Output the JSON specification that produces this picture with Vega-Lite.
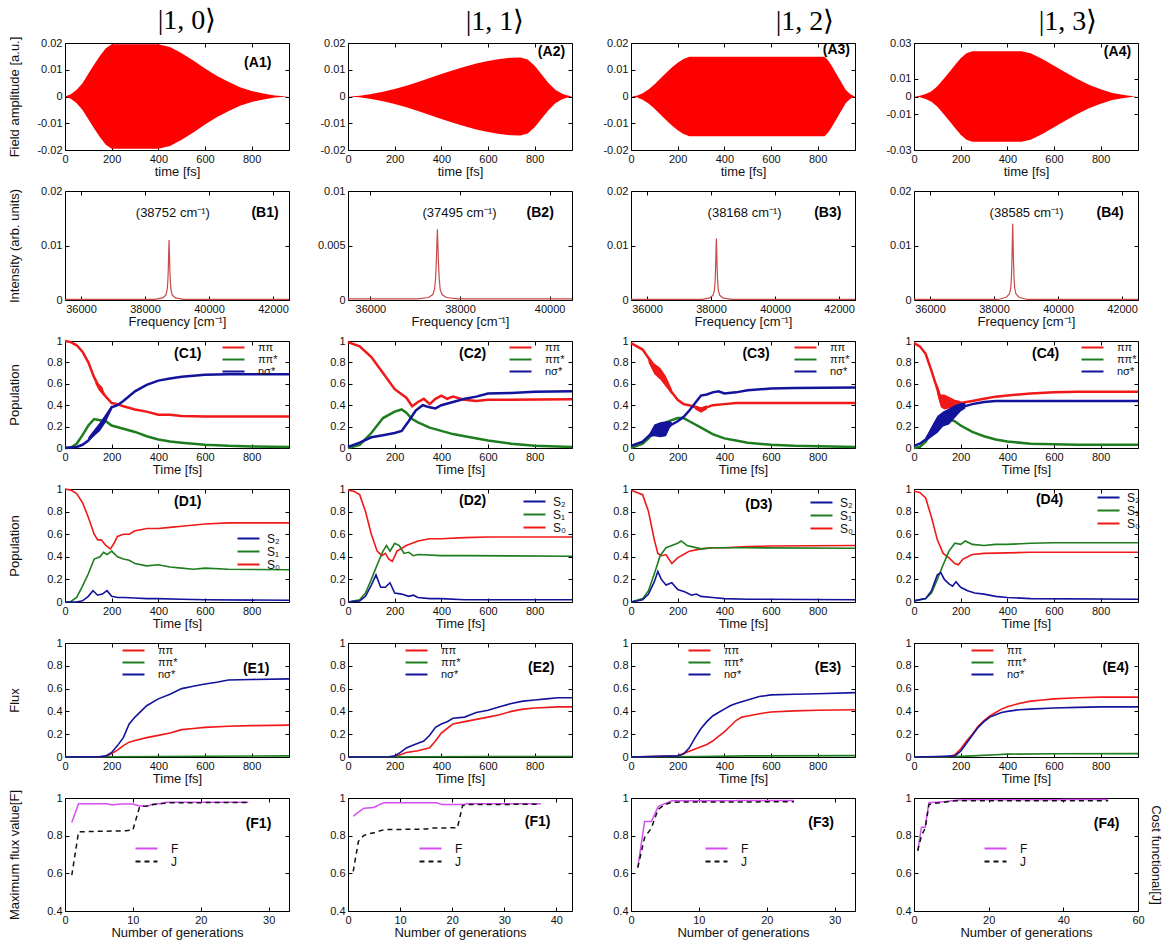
{
"$schema":"https://vega.github.io/schema/vega-lite/v6.json",
"padding":{"left":7,"top":6,"right":5,"bottom":5},
"config":{
 "font":"Liberation Sans",
 "view":{"stroke":"#000","strokeWidth":1},
 "numberFormat":"~r",
 "locale":{"number":{"decimal":".","thousands":",","grouping":[3],"currency":["$",""],"minus":"-"}},
 "axis":{"grid":false,"domain":false,"tickSize":-4,"tickColor":"#000","labelPadding":7,"labelFontSize":11,"labelColor":"#111","titleFontSize":13,"titleFontWeight":"normal","titleColor":"#111","labelFont":"Liberation Sans","titleFont":"Liberation Sans","labelFlush":false},
 "axisX":{"titlePadding":1},
 "axisY":{"titlePadding":4},
 "title":{"font":"Liberation Serif","fontSize":28,"fontWeight":"normal","anchor":"middle","offset":1,"color":"#000"},
 "legend":{"symbolType":"M-2,0H2","symbolSize":121,"symbolStrokeWidth":2,"labelFontSize":11,"labelFont":"Liberation Sans","rowPadding":0,"padding":0,"labelOffset":18,"offset":3,"labelColor":"#111"}
},
"datasets":{
"fa":[
{"p":"A1","t":0,"hi":0,"lo":0},{"p":"A1","t":25,"hi":0.0008,"lo":-0.0008},{"p":"A1","t":50,"hi":0.0025,"lo":-0.0025},{"p":"A1","t":75,"hi":0.005,"lo":-0.005},{"p":"A1","t":100,"hi":0.0085,"lo":-0.0085},{"p":"A1","t":125,"hi":0.012,"lo":-0.012},{"p":"A1","t":150,"hi":0.0152,"lo":-0.0152},{"p":"A1","t":175,"hi":0.018,"lo":-0.018},{"p":"A1","t":200,"hi":0.0195,"lo":-0.0195},{"p":"A1","t":400,"hi":0.0195,"lo":-0.0195},{"p":"A1","t":450,"hi":0.0185,"lo":-0.0185},{"p":"A1","t":500,"hi":0.0162,"lo":-0.0162},{"p":"A1","t":550,"hi":0.0135,"lo":-0.0135},{"p":"A1","t":600,"hi":0.0105,"lo":-0.0105},{"p":"A1","t":650,"hi":0.0078,"lo":-0.0078},{"p":"A1","t":700,"hi":0.0055,"lo":-0.0055},{"p":"A1","t":750,"hi":0.0035,"lo":-0.0035},{"p":"A1","t":800,"hi":0.0021,"lo":-0.0021},{"p":"A1","t":850,"hi":0.0011,"lo":-0.0011},{"p":"A1","t":900,"hi":0.0004,"lo":-0.0004},{"p":"A1","t":940,"hi":0.0001,"lo":-0.0001},{"p":"A1","t":960,"hi":0,"lo":0},
{"p":"A2","t":0,"hi":0,"lo":0},{"p":"A2","t":50,"hi":0.0003,"lo":-0.0003},{"p":"A2","t":100,"hi":0.0009,"lo":-0.0009},{"p":"A2","t":150,"hi":0.0018,"lo":-0.0018},{"p":"A2","t":200,"hi":0.0028,"lo":-0.0028},{"p":"A2","t":250,"hi":0.004,"lo":-0.004},{"p":"A2","t":300,"hi":0.0054,"lo":-0.0054},{"p":"A2","t":350,"hi":0.0069,"lo":-0.0069},{"p":"A2","t":400,"hi":0.0084,"lo":-0.0084},{"p":"A2","t":450,"hi":0.0098,"lo":-0.0098},{"p":"A2","t":500,"hi":0.0111,"lo":-0.0111},{"p":"A2","t":550,"hi":0.0123,"lo":-0.0123},{"p":"A2","t":600,"hi":0.0133,"lo":-0.0133},{"p":"A2","t":650,"hi":0.014,"lo":-0.014},{"p":"A2","t":700,"hi":0.0145,"lo":-0.0145},{"p":"A2","t":740,"hi":0.0146,"lo":-0.0146},{"p":"A2","t":770,"hi":0.0138,"lo":-0.0138},{"p":"A2","t":800,"hi":0.0115,"lo":-0.0115},{"p":"A2","t":830,"hi":0.0082,"lo":-0.0082},{"p":"A2","t":860,"hi":0.005,"lo":-0.005},{"p":"A2","t":890,"hi":0.0024,"lo":-0.0024},{"p":"A2","t":920,"hi":0.0009,"lo":-0.0009},{"p":"A2","t":950,"hi":0.0002,"lo":-0.0002},{"p":"A2","t":960,"hi":0,"lo":0},
{"p":"A3","t":0,"hi":0,"lo":0},{"p":"A3","t":25,"hi":0.0003,"lo":-0.0003},{"p":"A3","t":50,"hi":0.0012,"lo":-0.0012},{"p":"A3","t":75,"hi":0.0026,"lo":-0.0026},{"p":"A3","t":100,"hi":0.0045,"lo":-0.0045},{"p":"A3","t":125,"hi":0.0066,"lo":-0.0066},{"p":"A3","t":150,"hi":0.0088,"lo":-0.0088},{"p":"A3","t":175,"hi":0.0108,"lo":-0.0108},{"p":"A3","t":200,"hi":0.0126,"lo":-0.0126},{"p":"A3","t":225,"hi":0.014,"lo":-0.014},{"p":"A3","t":250,"hi":0.0149,"lo":-0.0149},{"p":"A3","t":830,"hi":0.0149,"lo":-0.0149},{"p":"A3","t":845,"hi":0.0135,"lo":-0.0135},{"p":"A3","t":860,"hi":0.0115,"lo":-0.0115},{"p":"A3","t":880,"hi":0.0085,"lo":-0.0085},{"p":"A3","t":900,"hi":0.0055,"lo":-0.0055},{"p":"A3","t":920,"hi":0.0025,"lo":-0.0025},{"p":"A3","t":940,"hi":0.0008,"lo":-0.0008},{"p":"A3","t":960,"hi":0,"lo":0},
{"p":"A4","t":0,"hi":0,"lo":0},{"p":"A4","t":25,"hi":0.0004,"lo":-0.0004},{"p":"A4","t":50,"hi":0.0014,"lo":-0.0014},{"p":"A4","t":75,"hi":0.003,"lo":-0.003},{"p":"A4","t":100,"hi":0.0058,"lo":-0.0058},{"p":"A4","t":125,"hi":0.0095,"lo":-0.0095},{"p":"A4","t":150,"hi":0.0135,"lo":-0.0135},{"p":"A4","t":175,"hi":0.0175,"lo":-0.0175},{"p":"A4","t":200,"hi":0.0215,"lo":-0.0215},{"p":"A4","t":225,"hi":0.0243,"lo":-0.0243},{"p":"A4","t":250,"hi":0.0254,"lo":-0.0254},{"p":"A4","t":460,"hi":0.0254,"lo":-0.0254},{"p":"A4","t":500,"hi":0.0242,"lo":-0.0242},{"p":"A4","t":550,"hi":0.021,"lo":-0.021},{"p":"A4","t":600,"hi":0.0172,"lo":-0.0172},{"p":"A4","t":650,"hi":0.0135,"lo":-0.0135},{"p":"A4","t":700,"hi":0.0098,"lo":-0.0098},{"p":"A4","t":750,"hi":0.0066,"lo":-0.0066},{"p":"A4","t":800,"hi":0.004,"lo":-0.004},{"p":"A4","t":850,"hi":0.002,"lo":-0.002},{"p":"A4","t":900,"hi":0.0008,"lo":-0.0008},{"p":"A4","t":940,"hi":0.0002,"lo":-0.0002},{"p":"A4","t":960,"hi":0,"lo":0}
],
"fb":[
{"p":"B1","f":35500,"v":0.0001},{"p":"B1","f":38302,"v":0.0001},{"p":"B1","f":38552,"v":0.0004},{"p":"B1","f":38650,"v":0.0009},{"p":"B1","f":38690,"v":0.0018},{"p":"B1","f":38712,"v":0.0033},{"p":"B1","f":38727,"v":0.0055},{"p":"B1","f":38740,"v":0.0085},{"p":"B1","f":38752,"v":0.011},{"p":"B1","f":38764,"v":0.0085},{"p":"B1","f":38777,"v":0.0055},{"p":"B1","f":38792,"v":0.0033},{"p":"B1","f":38814,"v":0.0018},{"p":"B1","f":38854,"v":0.0009},{"p":"B1","f":38952,"v":0.0004},{"p":"B1","f":39202,"v":0.0001},{"p":"B1","f":42500,"v":0.0001},
{"p":"B2","f":35500,"v":0.0001},{"p":"B2","f":37045,"v":0.0001},{"p":"B2","f":37295,"v":0.00023},{"p":"B2","f":37393,"v":0.0005},{"p":"B2","f":37433,"v":0.001},{"p":"B2","f":37455,"v":0.002},{"p":"B2","f":37470,"v":0.0033},{"p":"B2","f":37483,"v":0.005},{"p":"B2","f":37495,"v":0.0065},{"p":"B2","f":37507,"v":0.005},{"p":"B2","f":37520,"v":0.0033},{"p":"B2","f":37535,"v":0.002},{"p":"B2","f":37557,"v":0.001},{"p":"B2","f":37597,"v":0.0005},{"p":"B2","f":37695,"v":0.00023},{"p":"B2","f":37945,"v":0.0001},{"p":"B2","f":40500,"v":0.0001},
{"p":"B3","f":35500,"v":0.0001},{"p":"B3","f":37718,"v":0.0001},{"p":"B3","f":37968,"v":0.0004},{"p":"B3","f":38066,"v":0.0009},{"p":"B3","f":38106,"v":0.0018},{"p":"B3","f":38128,"v":0.0034},{"p":"B3","f":38143,"v":0.0057},{"p":"B3","f":38156,"v":0.0087},{"p":"B3","f":38168,"v":0.0113},{"p":"B3","f":38180,"v":0.0087},{"p":"B3","f":38193,"v":0.0057},{"p":"B3","f":38208,"v":0.0034},{"p":"B3","f":38230,"v":0.0018},{"p":"B3","f":38270,"v":0.0009},{"p":"B3","f":38368,"v":0.0004},{"p":"B3","f":38618,"v":0.0001},{"p":"B3","f":42500,"v":0.0001},
{"p":"B4","f":35500,"v":0.0001},{"p":"B4","f":38135,"v":0.0001},{"p":"B4","f":38385,"v":0.0005},{"p":"B4","f":38483,"v":0.0011},{"p":"B4","f":38523,"v":0.0022},{"p":"B4","f":38545,"v":0.0042},{"p":"B4","f":38560,"v":0.007},{"p":"B4","f":38573,"v":0.0108},{"p":"B4","f":38585,"v":0.014},{"p":"B4","f":38597,"v":0.0108},{"p":"B4","f":38610,"v":0.007},{"p":"B4","f":38625,"v":0.0042},{"p":"B4","f":38647,"v":0.0022},{"p":"B4","f":38687,"v":0.0011},{"p":"B4","f":38785,"v":0.0005},{"p":"B4","f":39035,"v":0.0001},{"p":"B4","f":42500,"v":0.0001}
],
"bd":[
{"p":"C1","s":"r","t":130,"lo":0.6,"hi":0.66},{"p":"C1","s":"r","t":145,"lo":0.54,"hi":0.6},{"p":"C1","s":"r","t":160,"lo":0.5,"hi":0.57},{"p":"C1","s":"r","t":170,"lo":0.48,"hi":0.51},
{"p":"C1","s":"b","t":100,"lo":0.06,"hi":0.1},{"p":"C1","s":"b","t":125,"lo":0.11,"hi":0.17},{"p":"C1","s":"b","t":150,"lo":0.16,"hi":0.24},{"p":"C1","s":"b","t":175,"lo":0.24,"hi":0.32},{"p":"C1","s":"b","t":200,"lo":0.36,"hi":0.4},
{"p":"C3","s":"r","t":75,"lo":0.8,"hi":0.86},{"p":"C3","s":"r","t":100,"lo":0.69,"hi":0.79},{"p":"C3","s":"r","t":125,"lo":0.64,"hi":0.75},{"p":"C3","s":"r","t":150,"lo":0.57,"hi":0.67},{"p":"C3","s":"r","t":175,"lo":0.5,"hi":0.55},
{"p":"C3","s":"r","t":275,"lo":0.36,"hi":0.4},{"p":"C3","s":"r","t":300,"lo":0.33,"hi":0.38},{"p":"C3","s":"r","t":325,"lo":0.36,"hi":0.4},
{"p":"C3","s":"b","t":75,"lo":0.1,"hi":0.12},{"p":"C3","s":"b","t":100,"lo":0.11,"hi":0.22},{"p":"C3","s":"b","t":125,"lo":0.1,"hi":0.24},{"p":"C3","s":"b","t":150,"lo":0.11,"hi":0.25},{"p":"C3","s":"b","t":165,"lo":0.18,"hi":0.25},{"p":"C3","s":"b","t":175,"lo":0.22,"hi":0.24},
{"p":"C4","s":"r","t":100,"lo":0.5,"hi":0.6},{"p":"C4","s":"r","t":115,"lo":0.38,"hi":0.5},{"p":"C4","s":"r","t":130,"lo":0.36,"hi":0.5},{"p":"C4","s":"r","t":150,"lo":0.37,"hi":0.48},{"p":"C4","s":"r","t":175,"lo":0.38,"hi":0.45},{"p":"C4","s":"r","t":200,"lo":0.4,"hi":0.44},
{"p":"C4","s":"b","t":50,"lo":0.06,"hi":0.1},{"p":"C4","s":"b","t":75,"lo":0.1,"hi":0.2},{"p":"C4","s":"b","t":100,"lo":0.14,"hi":0.3},{"p":"C4","s":"b","t":125,"lo":0.2,"hi":0.34},{"p":"C4","s":"b","t":150,"lo":0.22,"hi":0.37},{"p":"C4","s":"b","t":175,"lo":0.28,"hi":0.4},{"p":"C4","s":"b","t":200,"lo":0.34,"hi":0.42},{"p":"C4","s":"b","t":220,"lo":0.37,"hi":0.42}
],
"pc":[
{"p":"C1","s":"ππ","t":0,"v":1},{"p":"C1","s":"ππ","t":25,"v":0.99},{"p":"C1","s":"ππ","t":50,"v":0.96},{"p":"C1","s":"ππ","t":75,"v":0.9},{"p":"C1","s":"ππ","t":100,"v":0.8},{"p":"C1","s":"ππ","t":125,"v":0.66},{"p":"C1","s":"ππ","t":150,"v":0.55},{"p":"C1","s":"ππ","t":175,"v":0.48},{"p":"C1","s":"ππ","t":200,"v":0.42},{"p":"C1","s":"ππ","t":225,"v":0.41},{"p":"C1","s":"ππ","t":250,"v":0.39},{"p":"C1","s":"ππ","t":300,"v":0.36},{"p":"C1","s":"ππ","t":350,"v":0.34},{"p":"C1","s":"ππ","t":400,"v":0.31},{"p":"C1","s":"ππ","t":450,"v":0.31},{"p":"C1","s":"ππ","t":500,"v":0.3},{"p":"C1","s":"ππ","t":600,"v":0.295},{"p":"C1","s":"ππ","t":960,"v":0.295},
{"p":"C1","s":"ππ*","t":0,"v":0},{"p":"C1","s":"ππ*","t":25,"v":0.005},{"p":"C1","s":"ππ*","t":50,"v":0.04},{"p":"C1","s":"ππ*","t":75,"v":0.12},{"p":"C1","s":"ππ*","t":100,"v":0.21},{"p":"C1","s":"ππ*","t":125,"v":0.27},{"p":"C1","s":"ππ*","t":150,"v":0.26},{"p":"C1","s":"ππ*","t":175,"v":0.25},{"p":"C1","s":"ππ*","t":200,"v":0.21},{"p":"C1","s":"ππ*","t":250,"v":0.18},{"p":"C1","s":"ππ*","t":300,"v":0.15},{"p":"C1","s":"ππ*","t":350,"v":0.11},{"p":"C1","s":"ππ*","t":400,"v":0.08},{"p":"C1","s":"ππ*","t":450,"v":0.06},{"p":"C1","s":"ππ*","t":500,"v":0.05},{"p":"C1","s":"ππ*","t":600,"v":0.03},{"p":"C1","s":"ππ*","t":700,"v":0.02},{"p":"C1","s":"ππ*","t":800,"v":0.015},{"p":"C1","s":"ππ*","t":960,"v":0.01},
{"p":"C1","s":"nσ*","t":0,"v":0},{"p":"C1","s":"nσ*","t":50,"v":0.01},{"p":"C1","s":"nσ*","t":75,"v":0.03},{"p":"C1","s":"nσ*","t":100,"v":0.07},{"p":"C1","s":"nσ*","t":125,"v":0.14},{"p":"C1","s":"nσ*","t":150,"v":0.2},{"p":"C1","s":"nσ*","t":175,"v":0.28},{"p":"C1","s":"nσ*","t":200,"v":0.38},{"p":"C1","s":"nσ*","t":225,"v":0.4},{"p":"C1","s":"nσ*","t":250,"v":0.44},{"p":"C1","s":"nσ*","t":300,"v":0.53},{"p":"C1","s":"nσ*","t":350,"v":0.59},{"p":"C1","s":"nσ*","t":400,"v":0.63},{"p":"C1","s":"nσ*","t":450,"v":0.65},{"p":"C1","s":"nσ*","t":500,"v":0.665},{"p":"C1","s":"nσ*","t":600,"v":0.685},{"p":"C1","s":"nσ*","t":700,"v":0.69},{"p":"C1","s":"nσ*","t":960,"v":0.69},
{"p":"C2","s":"ππ","t":0,"v":0.99},{"p":"C2","s":"ππ","t":50,"v":0.95},{"p":"C2","s":"ππ","t":100,"v":0.85},{"p":"C2","s":"ππ","t":150,"v":0.7},{"p":"C2","s":"ππ","t":200,"v":0.55},{"p":"C2","s":"ππ","t":250,"v":0.47},{"p":"C2","s":"ππ","t":275,"v":0.39},{"p":"C2","s":"ππ","t":300,"v":0.43},{"p":"C2","s":"ππ","t":325,"v":0.46},{"p":"C2","s":"ππ","t":350,"v":0.41},{"p":"C2","s":"ππ","t":375,"v":0.46},{"p":"C2","s":"ππ","t":400,"v":0.49},{"p":"C2","s":"ππ","t":425,"v":0.46},{"p":"C2","s":"ππ","t":450,"v":0.48},{"p":"C2","s":"ππ","t":500,"v":0.45},{"p":"C2","s":"ππ","t":550,"v":0.44},{"p":"C2","s":"ππ","t":600,"v":0.45},{"p":"C2","s":"ππ","t":960,"v":0.455},
{"p":"C2","s":"ππ*","t":0,"v":0},{"p":"C2","s":"ππ*","t":50,"v":0.03},{"p":"C2","s":"ππ*","t":100,"v":0.14},{"p":"C2","s":"ππ*","t":150,"v":0.28},{"p":"C2","s":"ππ*","t":200,"v":0.34},{"p":"C2","s":"ππ*","t":230,"v":0.36},{"p":"C2","s":"ππ*","t":250,"v":0.33},{"p":"C2","s":"ππ*","t":275,"v":0.27},{"p":"C2","s":"ππ*","t":300,"v":0.24},{"p":"C2","s":"ππ*","t":350,"v":0.19},{"p":"C2","s":"ππ*","t":400,"v":0.16},{"p":"C2","s":"ππ*","t":450,"v":0.13},{"p":"C2","s":"ππ*","t":500,"v":0.11},{"p":"C2","s":"ππ*","t":600,"v":0.07},{"p":"C2","s":"ππ*","t":700,"v":0.04},{"p":"C2","s":"ππ*","t":800,"v":0.02},{"p":"C2","s":"ππ*","t":960,"v":0.01},
{"p":"C2","s":"nσ*","t":0,"v":0.01},{"p":"C2","s":"nσ*","t":50,"v":0.05},{"p":"C2","s":"nσ*","t":100,"v":0.1},{"p":"C2","s":"nσ*","t":150,"v":0.12},{"p":"C2","s":"nσ*","t":200,"v":0.14},{"p":"C2","s":"nσ*","t":230,"v":0.16},{"p":"C2","s":"nσ*","t":260,"v":0.25},{"p":"C2","s":"nσ*","t":290,"v":0.35},{"p":"C2","s":"nσ*","t":320,"v":0.4},{"p":"C2","s":"nσ*","t":350,"v":0.38},{"p":"C2","s":"nσ*","t":375,"v":0.37},{"p":"C2","s":"nσ*","t":400,"v":0.4},{"p":"C2","s":"nσ*","t":450,"v":0.43},{"p":"C2","s":"nσ*","t":500,"v":0.46},{"p":"C2","s":"nσ*","t":550,"v":0.48},{"p":"C2","s":"nσ*","t":600,"v":0.51},{"p":"C2","s":"nσ*","t":700,"v":0.515},{"p":"C2","s":"nσ*","t":800,"v":0.525},{"p":"C2","s":"nσ*","t":960,"v":0.53},
{"p":"C3","s":"ππ","t":0,"v":0.98},{"p":"C3","s":"ππ","t":50,"v":0.92},{"p":"C3","s":"ππ","t":75,"v":0.84},{"p":"C3","s":"ππ","t":100,"v":0.75},{"p":"C3","s":"ππ","t":125,"v":0.7},{"p":"C3","s":"ππ","t":150,"v":0.62},{"p":"C3","s":"ππ","t":175,"v":0.52},{"p":"C3","s":"ππ","t":200,"v":0.45},{"p":"C3","s":"ππ","t":225,"v":0.41},{"p":"C3","s":"ππ","t":250,"v":0.4},{"p":"C3","s":"ππ","t":275,"v":0.38},{"p":"C3","s":"ππ","t":300,"v":0.36},{"p":"C3","s":"ππ","t":325,"v":0.38},{"p":"C3","s":"ππ","t":350,"v":0.4},{"p":"C3","s":"ππ","t":400,"v":0.41},{"p":"C3","s":"ππ","t":450,"v":0.42},{"p":"C3","s":"ππ","t":500,"v":0.42},{"p":"C3","s":"ππ","t":960,"v":0.42},
{"p":"C3","s":"ππ*","t":0,"v":0},{"p":"C3","s":"ππ*","t":50,"v":0.04},{"p":"C3","s":"ππ*","t":75,"v":0.09},{"p":"C3","s":"ππ*","t":100,"v":0.15},{"p":"C3","s":"ππ*","t":125,"v":0.2},{"p":"C3","s":"ππ*","t":150,"v":0.24},{"p":"C3","s":"ππ*","t":175,"v":0.26},{"p":"C3","s":"ππ*","t":200,"v":0.28},{"p":"C3","s":"ππ*","t":225,"v":0.28},{"p":"C3","s":"ππ*","t":250,"v":0.25},{"p":"C3","s":"ππ*","t":300,"v":0.19},{"p":"C3","s":"ππ*","t":350,"v":0.13},{"p":"C3","s":"ππ*","t":400,"v":0.09},{"p":"C3","s":"ππ*","t":450,"v":0.07},{"p":"C3","s":"ππ*","t":500,"v":0.05},{"p":"C3","s":"ππ*","t":600,"v":0.03},{"p":"C3","s":"ππ*","t":700,"v":0.02},{"p":"C3","s":"ππ*","t":960,"v":0.01},
{"p":"C3","s":"nσ*","t":0,"v":0.02},{"p":"C3","s":"nσ*","t":50,"v":0.06},{"p":"C3","s":"nσ*","t":75,"v":0.11},{"p":"C3","s":"nσ*","t":100,"v":0.16},{"p":"C3","s":"nσ*","t":125,"v":0.17},{"p":"C3","s":"nσ*","t":150,"v":0.18},{"p":"C3","s":"nσ*","t":175,"v":0.22},{"p":"C3","s":"nσ*","t":200,"v":0.25},{"p":"C3","s":"nσ*","t":225,"v":0.29},{"p":"C3","s":"nσ*","t":250,"v":0.35},{"p":"C3","s":"nσ*","t":275,"v":0.42},{"p":"C3","s":"nσ*","t":300,"v":0.49},{"p":"C3","s":"nσ*","t":325,"v":0.5},{"p":"C3","s":"nσ*","t":350,"v":0.52},{"p":"C3","s":"nσ*","t":375,"v":0.53},{"p":"C3","s":"nσ*","t":400,"v":0.51},{"p":"C3","s":"nσ*","t":450,"v":0.52},{"p":"C3","s":"nσ*","t":500,"v":0.54},{"p":"C3","s":"nσ*","t":600,"v":0.555},{"p":"C3","s":"nσ*","t":700,"v":0.56},{"p":"C3","s":"nσ*","t":960,"v":0.565},
{"p":"C4","s":"ππ","t":0,"v":0.98},{"p":"C4","s":"ππ","t":25,"v":0.95},{"p":"C4","s":"ππ","t":50,"v":0.88},{"p":"C4","s":"ππ","t":75,"v":0.72},{"p":"C4","s":"ππ","t":100,"v":0.55},{"p":"C4","s":"ππ","t":115,"v":0.43},{"p":"C4","s":"ππ","t":125,"v":0.4},{"p":"C4","s":"ππ","t":150,"v":0.42},{"p":"C4","s":"ππ","t":175,"v":0.4},{"p":"C4","s":"ππ","t":200,"v":0.42},{"p":"C4","s":"ππ","t":250,"v":0.44},{"p":"C4","s":"ππ","t":300,"v":0.46},{"p":"C4","s":"ππ","t":350,"v":0.48},{"p":"C4","s":"ππ","t":400,"v":0.49},{"p":"C4","s":"ππ","t":450,"v":0.5},{"p":"C4","s":"ππ","t":500,"v":0.51},{"p":"C4","s":"ππ","t":600,"v":0.52},{"p":"C4","s":"ππ","t":700,"v":0.525},{"p":"C4","s":"ππ","t":960,"v":0.525},
{"p":"C4","s":"ππ*","t":0,"v":0},{"p":"C4","s":"ππ*","t":25,"v":0.01},{"p":"C4","s":"ππ*","t":50,"v":0.06},{"p":"C4","s":"ππ*","t":75,"v":0.15},{"p":"C4","s":"ππ*","t":100,"v":0.24},{"p":"C4","s":"ππ*","t":125,"v":0.27},{"p":"C4","s":"ππ*","t":150,"v":0.27},{"p":"C4","s":"ππ*","t":175,"v":0.25},{"p":"C4","s":"ππ*","t":200,"v":0.21},{"p":"C4","s":"ππ*","t":250,"v":0.15},{"p":"C4","s":"ππ*","t":300,"v":0.11},{"p":"C4","s":"ππ*","t":350,"v":0.08},{"p":"C4","s":"ππ*","t":400,"v":0.06},{"p":"C4","s":"ππ*","t":500,"v":0.04},{"p":"C4","s":"ππ*","t":600,"v":0.035},{"p":"C4","s":"ππ*","t":700,"v":0.03},{"p":"C4","s":"ππ*","t":960,"v":0.03},
{"p":"C4","s":"nσ*","t":0,"v":0.02},{"p":"C4","s":"nσ*","t":25,"v":0.04},{"p":"C4","s":"nσ*","t":50,"v":0.08},{"p":"C4","s":"nσ*","t":75,"v":0.15},{"p":"C4","s":"nσ*","t":100,"v":0.22},{"p":"C4","s":"nσ*","t":125,"v":0.27},{"p":"C4","s":"nσ*","t":150,"v":0.3},{"p":"C4","s":"nσ*","t":175,"v":0.34},{"p":"C4","s":"nσ*","t":200,"v":0.38},{"p":"C4","s":"nσ*","t":250,"v":0.41},{"p":"C4","s":"nσ*","t":300,"v":0.43},{"p":"C4","s":"nσ*","t":350,"v":0.44},{"p":"C4","s":"nσ*","t":400,"v":0.44},{"p":"C4","s":"nσ*","t":500,"v":0.44},{"p":"C4","s":"nσ*","t":960,"v":0.44}
],
"pd":[
{"p":"D1","s":"S₀","t":0,"v":1},{"p":"D1","s":"S₀","t":25,"v":0.99},{"p":"D1","s":"S₀","t":50,"v":0.96},{"p":"D1","s":"S₀","t":75,"v":0.88},{"p":"D1","s":"S₀","t":100,"v":0.75},{"p":"D1","s":"S₀","t":125,"v":0.6},{"p":"D1","s":"S₀","t":140,"v":0.55},{"p":"D1","s":"S₀","t":155,"v":0.55},{"p":"D1","s":"S₀","t":175,"v":0.5},{"p":"D1","s":"S₀","t":195,"v":0.47},{"p":"D1","s":"S₀","t":210,"v":0.52},{"p":"D1","s":"S₀","t":225,"v":0.58},{"p":"D1","s":"S₀","t":250,"v":0.6},{"p":"D1","s":"S₀","t":275,"v":0.6},{"p":"D1","s":"S₀","t":300,"v":0.63},{"p":"D1","s":"S₀","t":325,"v":0.64},{"p":"D1","s":"S₀","t":350,"v":0.65},{"p":"D1","s":"S₀","t":400,"v":0.65},{"p":"D1","s":"S₀","t":450,"v":0.66},{"p":"D1","s":"S₀","t":500,"v":0.67},{"p":"D1","s":"S₀","t":600,"v":0.69},{"p":"D1","s":"S₀","t":700,"v":0.7},{"p":"D1","s":"S₀","t":960,"v":0.7},
{"p":"D1","s":"S₁","t":0,"v":0},{"p":"D1","s":"S₁","t":25,"v":0.005},{"p":"D1","s":"S₁","t":50,"v":0.04},{"p":"D1","s":"S₁","t":75,"v":0.14},{"p":"D1","s":"S₁","t":100,"v":0.25},{"p":"D1","s":"S₁","t":125,"v":0.38},{"p":"D1","s":"S₁","t":150,"v":0.4},{"p":"D1","s":"S₁","t":165,"v":0.44},{"p":"D1","s":"S₁","t":180,"v":0.42},{"p":"D1","s":"S₁","t":200,"v":0.45},{"p":"D1","s":"S₁","t":225,"v":0.4},{"p":"D1","s":"S₁","t":250,"v":0.38},{"p":"D1","s":"S₁","t":275,"v":0.37},{"p":"D1","s":"S₁","t":300,"v":0.34},{"p":"D1","s":"S₁","t":350,"v":0.32},{"p":"D1","s":"S₁","t":400,"v":0.33},{"p":"D1","s":"S₁","t":450,"v":0.31},{"p":"D1","s":"S₁","t":500,"v":0.3},{"p":"D1","s":"S₁","t":550,"v":0.29},{"p":"D1","s":"S₁","t":600,"v":0.3},{"p":"D1","s":"S₁","t":700,"v":0.29},{"p":"D1","s":"S₁","t":960,"v":0.285},
{"p":"D1","s":"S₂","t":0,"v":0},{"p":"D1","s":"S₂","t":50,"v":0},{"p":"D1","s":"S₂","t":75,"v":0.01},{"p":"D1","s":"S₂","t":100,"v":0.05},{"p":"D1","s":"S₂","t":120,"v":0.1},{"p":"D1","s":"S₂","t":140,"v":0.06},{"p":"D1","s":"S₂","t":160,"v":0.07},{"p":"D1","s":"S₂","t":180,"v":0.1},{"p":"D1","s":"S₂","t":200,"v":0.05},{"p":"D1","s":"S₂","t":225,"v":0.04},{"p":"D1","s":"S₂","t":250,"v":0.04},{"p":"D1","s":"S₂","t":300,"v":0.035},{"p":"D1","s":"S₂","t":350,"v":0.03},{"p":"D1","s":"S₂","t":400,"v":0.03},{"p":"D1","s":"S₂","t":500,"v":0.025},{"p":"D1","s":"S₂","t":600,"v":0.02},{"p":"D1","s":"S₂","t":960,"v":0.015},
{"p":"D2","s":"S₀","t":0,"v":0.99},{"p":"D2","s":"S₀","t":25,"v":0.98},{"p":"D2","s":"S₀","t":50,"v":0.95},{"p":"D2","s":"S₀","t":75,"v":0.8},{"p":"D2","s":"S₀","t":100,"v":0.6},{"p":"D2","s":"S₀","t":125,"v":0.45},{"p":"D2","s":"S₀","t":145,"v":0.41},{"p":"D2","s":"S₀","t":160,"v":0.43},{"p":"D2","s":"S₀","t":175,"v":0.38},{"p":"D2","s":"S₀","t":190,"v":0.36},{"p":"D2","s":"S₀","t":210,"v":0.45},{"p":"D2","s":"S₀","t":250,"v":0.5},{"p":"D2","s":"S₀","t":300,"v":0.54},{"p":"D2","s":"S₀","t":350,"v":0.56},{"p":"D2","s":"S₀","t":400,"v":0.56},{"p":"D2","s":"S₀","t":500,"v":0.57},{"p":"D2","s":"S₀","t":600,"v":0.575},{"p":"D2","s":"S₀","t":960,"v":0.575},
{"p":"D2","s":"S₁","t":0,"v":0},{"p":"D2","s":"S₁","t":50,"v":0.02},{"p":"D2","s":"S₁","t":75,"v":0.08},{"p":"D2","s":"S₁","t":100,"v":0.2},{"p":"D2","s":"S₁","t":125,"v":0.33},{"p":"D2","s":"S₁","t":150,"v":0.45},{"p":"D2","s":"S₁","t":165,"v":0.5},{"p":"D2","s":"S₁","t":180,"v":0.45},{"p":"D2","s":"S₁","t":200,"v":0.52},{"p":"D2","s":"S₁","t":220,"v":0.5},{"p":"D2","s":"S₁","t":240,"v":0.43},{"p":"D2","s":"S₁","t":260,"v":0.44},{"p":"D2","s":"S₁","t":280,"v":0.41},{"p":"D2","s":"S₁","t":300,"v":0.42},{"p":"D2","s":"S₁","t":400,"v":0.41},{"p":"D2","s":"S₁","t":500,"v":0.41},{"p":"D2","s":"S₁","t":960,"v":0.405},
{"p":"D2","s":"S₂","t":0,"v":0},{"p":"D2","s":"S₂","t":50,"v":0.01},{"p":"D2","s":"S₂","t":75,"v":0.05},{"p":"D2","s":"S₂","t":100,"v":0.15},{"p":"D2","s":"S₂","t":120,"v":0.24},{"p":"D2","s":"S₂","t":140,"v":0.13},{"p":"D2","s":"S₂","t":160,"v":0.13},{"p":"D2","s":"S₂","t":180,"v":0.17},{"p":"D2","s":"S₂","t":200,"v":0.08},{"p":"D2","s":"S₂","t":230,"v":0.07},{"p":"D2","s":"S₂","t":260,"v":0.05},{"p":"D2","s":"S₂","t":280,"v":0.06},{"p":"D2","s":"S₂","t":300,"v":0.04},{"p":"D2","s":"S₂","t":350,"v":0.03},{"p":"D2","s":"S₂","t":400,"v":0.03},{"p":"D2","s":"S₂","t":500,"v":0.02},{"p":"D2","s":"S₂","t":960,"v":0.02},
{"p":"D3","s":"S₀","t":0,"v":0.99},{"p":"D3","s":"S₀","t":50,"v":0.95},{"p":"D3","s":"S₀","t":75,"v":0.8},{"p":"D3","s":"S₀","t":100,"v":0.55},{"p":"D3","s":"S₀","t":115,"v":0.43},{"p":"D3","s":"S₀","t":130,"v":0.41},{"p":"D3","s":"S₀","t":150,"v":0.42},{"p":"D3","s":"S₀","t":175,"v":0.34},{"p":"D3","s":"S₀","t":200,"v":0.39},{"p":"D3","s":"S₀","t":225,"v":0.42},{"p":"D3","s":"S₀","t":250,"v":0.45},{"p":"D3","s":"S₀","t":300,"v":0.47},{"p":"D3","s":"S₀","t":350,"v":0.48},{"p":"D3","s":"S₀","t":400,"v":0.48},{"p":"D3","s":"S₀","t":500,"v":0.49},{"p":"D3","s":"S₀","t":600,"v":0.495},{"p":"D3","s":"S₀","t":960,"v":0.5},
{"p":"D3","s":"S₁","t":0,"v":0},{"p":"D3","s":"S₁","t":50,"v":0.03},{"p":"D3","s":"S₁","t":75,"v":0.1},{"p":"D3","s":"S₁","t":100,"v":0.25},{"p":"D3","s":"S₁","t":125,"v":0.41},{"p":"D3","s":"S₁","t":150,"v":0.48},{"p":"D3","s":"S₁","t":175,"v":0.5},{"p":"D3","s":"S₁","t":200,"v":0.52},{"p":"D3","s":"S₁","t":215,"v":0.54},{"p":"D3","s":"S₁","t":240,"v":0.5},{"p":"D3","s":"S₁","t":260,"v":0.49},{"p":"D3","s":"S₁","t":300,"v":0.47},{"p":"D3","s":"S₁","t":350,"v":0.48},{"p":"D3","s":"S₁","t":400,"v":0.48},{"p":"D3","s":"S₁","t":500,"v":0.48},{"p":"D3","s":"S₁","t":960,"v":0.475},
{"p":"D3","s":"S₂","t":0,"v":0},{"p":"D3","s":"S₂","t":50,"v":0.02},{"p":"D3","s":"S₂","t":75,"v":0.07},{"p":"D3","s":"S₂","t":100,"v":0.18},{"p":"D3","s":"S₂","t":115,"v":0.27},{"p":"D3","s":"S₂","t":130,"v":0.2},{"p":"D3","s":"S₂","t":150,"v":0.15},{"p":"D3","s":"S₂","t":175,"v":0.17},{"p":"D3","s":"S₂","t":200,"v":0.11},{"p":"D3","s":"S₂","t":230,"v":0.09},{"p":"D3","s":"S₂","t":260,"v":0.06},{"p":"D3","s":"S₂","t":280,"v":0.07},{"p":"D3","s":"S₂","t":300,"v":0.05},{"p":"D3","s":"S₂","t":350,"v":0.04},{"p":"D3","s":"S₂","t":400,"v":0.03},{"p":"D3","s":"S₂","t":500,"v":0.025},{"p":"D3","s":"S₂","t":960,"v":0.02},
{"p":"D4","s":"S₀","t":0,"v":0.98},{"p":"D4","s":"S₀","t":25,"v":0.97},{"p":"D4","s":"S₀","t":50,"v":0.92},{"p":"D4","s":"S₀","t":75,"v":0.75},{"p":"D4","s":"S₀","t":100,"v":0.55},{"p":"D4","s":"S₀","t":125,"v":0.43},{"p":"D4","s":"S₀","t":150,"v":0.39},{"p":"D4","s":"S₀","t":175,"v":0.34},{"p":"D4","s":"S₀","t":190,"v":0.33},{"p":"D4","s":"S₀","t":210,"v":0.38},{"p":"D4","s":"S₀","t":250,"v":0.42},{"p":"D4","s":"S₀","t":300,"v":0.43},{"p":"D4","s":"S₀","t":400,"v":0.435},{"p":"D4","s":"S₀","t":500,"v":0.44},{"p":"D4","s":"S₀","t":960,"v":0.44},
{"p":"D4","s":"S₁","t":0,"v":0.01},{"p":"D4","s":"S₁","t":50,"v":0.03},{"p":"D4","s":"S₁","t":75,"v":0.08},{"p":"D4","s":"S₁","t":100,"v":0.2},{"p":"D4","s":"S₁","t":125,"v":0.33},{"p":"D4","s":"S₁","t":150,"v":0.45},{"p":"D4","s":"S₁","t":175,"v":0.52},{"p":"D4","s":"S₁","t":200,"v":0.51},{"p":"D4","s":"S₁","t":220,"v":0.54},{"p":"D4","s":"S₁","t":250,"v":0.51},{"p":"D4","s":"S₁","t":300,"v":0.5},{"p":"D4","s":"S₁","t":350,"v":0.51},{"p":"D4","s":"S₁","t":400,"v":0.51},{"p":"D4","s":"S₁","t":500,"v":0.52},{"p":"D4","s":"S₁","t":600,"v":0.525},{"p":"D4","s":"S₁","t":960,"v":0.525},
{"p":"D4","s":"S₂","t":0,"v":0.01},{"p":"D4","s":"S₂","t":50,"v":0.03},{"p":"D4","s":"S₂","t":75,"v":0.1},{"p":"D4","s":"S₂","t":100,"v":0.24},{"p":"D4","s":"S₂","t":115,"v":0.26},{"p":"D4","s":"S₂","t":130,"v":0.2},{"p":"D4","s":"S₂","t":150,"v":0.16},{"p":"D4","s":"S₂","t":165,"v":0.14},{"p":"D4","s":"S₂","t":180,"v":0.18},{"p":"D4","s":"S₂","t":200,"v":0.13},{"p":"D4","s":"S₂","t":230,"v":0.1},{"p":"D4","s":"S₂","t":260,"v":0.08},{"p":"D4","s":"S₂","t":300,"v":0.07},{"p":"D4","s":"S₂","t":350,"v":0.05},{"p":"D4","s":"S₂","t":400,"v":0.04},{"p":"D4","s":"S₂","t":500,"v":0.03},{"p":"D4","s":"S₂","t":960,"v":0.025}
],
"pe":[
{"p":"E1","s":"ππ","t":0,"v":0},{"p":"E1","s":"ππ","t":175,"v":0.005},{"p":"E1","s":"ππ","t":200,"v":0.03},{"p":"E1","s":"ππ","t":225,"v":0.06},{"p":"E1","s":"ππ","t":250,"v":0.1},{"p":"E1","s":"ππ","t":275,"v":0.13},{"p":"E1","s":"ππ","t":300,"v":0.145},{"p":"E1","s":"ππ","t":350,"v":0.17},{"p":"E1","s":"ππ","t":400,"v":0.19},{"p":"E1","s":"ππ","t":450,"v":0.21},{"p":"E1","s":"ππ","t":500,"v":0.24},{"p":"E1","s":"ππ","t":550,"v":0.25},{"p":"E1","s":"ππ","t":600,"v":0.26},{"p":"E1","s":"ππ","t":700,"v":0.27},{"p":"E1","s":"ππ","t":800,"v":0.275},{"p":"E1","s":"ππ","t":960,"v":0.28},
{"p":"E1","s":"ππ*","t":0,"v":0},{"p":"E1","s":"ππ*","t":200,"v":0.002},{"p":"E1","s":"ππ*","t":400,"v":0.005},{"p":"E1","s":"ππ*","t":600,"v":0.007},{"p":"E1","s":"ππ*","t":960,"v":0.01},
{"p":"E1","s":"nσ*","t":0,"v":0},{"p":"E1","s":"nσ*","t":150,"v":0.003},{"p":"E1","s":"nσ*","t":175,"v":0.01},{"p":"E1","s":"nσ*","t":200,"v":0.04},{"p":"E1","s":"nσ*","t":225,"v":0.1},{"p":"E1","s":"nσ*","t":250,"v":0.17},{"p":"E1","s":"nσ*","t":275,"v":0.29},{"p":"E1","s":"nσ*","t":300,"v":0.35},{"p":"E1","s":"nσ*","t":325,"v":0.4},{"p":"E1","s":"nσ*","t":350,"v":0.45},{"p":"E1","s":"nσ*","t":400,"v":0.51},{"p":"E1","s":"nσ*","t":450,"v":0.55},{"p":"E1","s":"nσ*","t":500,"v":0.6},{"p":"E1","s":"nσ*","t":550,"v":0.62},{"p":"E1","s":"nσ*","t":600,"v":0.64},{"p":"E1","s":"nσ*","t":650,"v":0.655},{"p":"E1","s":"nσ*","t":700,"v":0.675},{"p":"E1","s":"nσ*","t":800,"v":0.68},{"p":"E1","s":"nσ*","t":960,"v":0.685},
{"p":"E2","s":"ππ","t":0,"v":0},{"p":"E2","s":"ππ","t":200,"v":0.005},{"p":"E2","s":"ππ","t":225,"v":0.02},{"p":"E2","s":"ππ","t":250,"v":0.04},{"p":"E2","s":"ππ","t":300,"v":0.055},{"p":"E2","s":"ππ","t":350,"v":0.08},{"p":"E2","s":"ππ","t":375,"v":0.14},{"p":"E2","s":"ππ","t":400,"v":0.21},{"p":"E2","s":"ππ","t":425,"v":0.25},{"p":"E2","s":"ππ","t":450,"v":0.29},{"p":"E2","s":"ππ","t":500,"v":0.31},{"p":"E2","s":"ππ","t":550,"v":0.33},{"p":"E2","s":"ππ","t":600,"v":0.35},{"p":"E2","s":"ππ","t":650,"v":0.37},{"p":"E2","s":"ππ","t":700,"v":0.4},{"p":"E2","s":"ππ","t":750,"v":0.42},{"p":"E2","s":"ππ","t":800,"v":0.43},{"p":"E2","s":"ππ","t":900,"v":0.44},{"p":"E2","s":"ππ","t":960,"v":0.44},
{"p":"E2","s":"ππ*","t":0,"v":0},{"p":"E2","s":"ππ*","t":300,"v":0.002},{"p":"E2","s":"ππ*","t":600,"v":0.004},{"p":"E2","s":"ππ*","t":960,"v":0.005},
{"p":"E2","s":"nσ*","t":0,"v":0},{"p":"E2","s":"nσ*","t":175,"v":0.002},{"p":"E2","s":"nσ*","t":200,"v":0.01},{"p":"E2","s":"nσ*","t":225,"v":0.04},{"p":"E2","s":"nσ*","t":250,"v":0.08},{"p":"E2","s":"nσ*","t":275,"v":0.1},{"p":"E2","s":"nσ*","t":300,"v":0.12},{"p":"E2","s":"nσ*","t":325,"v":0.14},{"p":"E2","s":"nσ*","t":350,"v":0.19},{"p":"E2","s":"nσ*","t":375,"v":0.26},{"p":"E2","s":"nσ*","t":400,"v":0.29},{"p":"E2","s":"nσ*","t":425,"v":0.31},{"p":"E2","s":"nσ*","t":450,"v":0.34},{"p":"E2","s":"nσ*","t":500,"v":0.35},{"p":"E2","s":"nσ*","t":525,"v":0.37},{"p":"E2","s":"nσ*","t":550,"v":0.39},{"p":"E2","s":"nσ*","t":600,"v":0.41},{"p":"E2","s":"nσ*","t":650,"v":0.44},{"p":"E2","s":"nσ*","t":700,"v":0.47},{"p":"E2","s":"nσ*","t":750,"v":0.49},{"p":"E2","s":"nσ*","t":800,"v":0.5},{"p":"E2","s":"nσ*","t":850,"v":0.51},{"p":"E2","s":"nσ*","t":900,"v":0.52},{"p":"E2","s":"nσ*","t":960,"v":0.52},
{"p":"E3","s":"ππ","t":0,"v":0},{"p":"E3","s":"ππ","t":200,"v":0.01},{"p":"E3","s":"ππ","t":225,"v":0.03},{"p":"E3","s":"ππ","t":250,"v":0.05},{"p":"E3","s":"ππ","t":275,"v":0.07},{"p":"E3","s":"ππ","t":300,"v":0.09},{"p":"E3","s":"ππ","t":325,"v":0.11},{"p":"E3","s":"ππ","t":350,"v":0.14},{"p":"E3","s":"ππ","t":375,"v":0.18},{"p":"E3","s":"ππ","t":400,"v":0.22},{"p":"E3","s":"ππ","t":425,"v":0.27},{"p":"E3","s":"ππ","t":450,"v":0.32},{"p":"E3","s":"ππ","t":475,"v":0.35},{"p":"E3","s":"ππ","t":500,"v":0.36},{"p":"E3","s":"ππ","t":550,"v":0.38},{"p":"E3","s":"ππ","t":600,"v":0.395},{"p":"E3","s":"ππ","t":700,"v":0.405},{"p":"E3","s":"ππ","t":800,"v":0.41},{"p":"E3","s":"ππ","t":960,"v":0.415},
{"p":"E3","s":"ππ*","t":0,"v":0},{"p":"E3","s":"ππ*","t":300,"v":0.005},{"p":"E3","s":"ππ*","t":500,"v":0.01},{"p":"E3","s":"ππ*","t":960,"v":0.012},
{"p":"E3","s":"nσ*","t":0,"v":0},{"p":"E3","s":"nσ*","t":200,"v":0.01},{"p":"E3","s":"nσ*","t":225,"v":0.025},{"p":"E3","s":"nσ*","t":250,"v":0.08},{"p":"E3","s":"nσ*","t":275,"v":0.17},{"p":"E3","s":"nσ*","t":300,"v":0.25},{"p":"E3","s":"nσ*","t":325,"v":0.31},{"p":"E3","s":"nσ*","t":350,"v":0.36},{"p":"E3","s":"nσ*","t":375,"v":0.39},{"p":"E3","s":"nσ*","t":400,"v":0.42},{"p":"E3","s":"nσ*","t":425,"v":0.45},{"p":"E3","s":"nσ*","t":450,"v":0.47},{"p":"E3","s":"nσ*","t":500,"v":0.5},{"p":"E3","s":"nσ*","t":550,"v":0.53},{"p":"E3","s":"nσ*","t":600,"v":0.545},{"p":"E3","s":"nσ*","t":700,"v":0.55},{"p":"E3","s":"nσ*","t":800,"v":0.555},{"p":"E3","s":"nσ*","t":960,"v":0.565},
{"p":"E4","s":"ππ","t":0,"v":0},{"p":"E4","s":"ππ","t":150,"v":0.005},{"p":"E4","s":"ππ","t":175,"v":0.02},{"p":"E4","s":"ππ","t":200,"v":0.07},{"p":"E4","s":"ππ","t":225,"v":0.14},{"p":"E4","s":"ππ","t":250,"v":0.2},{"p":"E4","s":"ππ","t":275,"v":0.27},{"p":"E4","s":"ππ","t":300,"v":0.32},{"p":"E4","s":"ππ","t":325,"v":0.36},{"p":"E4","s":"ππ","t":350,"v":0.39},{"p":"E4","s":"ππ","t":375,"v":0.42},{"p":"E4","s":"ππ","t":400,"v":0.44},{"p":"E4","s":"ππ","t":450,"v":0.47},{"p":"E4","s":"ππ","t":500,"v":0.49},{"p":"E4","s":"ππ","t":550,"v":0.5},{"p":"E4","s":"ππ","t":600,"v":0.51},{"p":"E4","s":"ππ","t":700,"v":0.52},{"p":"E4","s":"ππ","t":800,"v":0.525},{"p":"E4","s":"ππ","t":960,"v":0.525},
{"p":"E4","s":"ππ*","t":0,"v":0},{"p":"E4","s":"ππ*","t":175,"v":0.003},{"p":"E4","s":"ππ*","t":250,"v":0.01},{"p":"E4","s":"ππ*","t":350,"v":0.02},{"p":"E4","s":"ππ*","t":400,"v":0.025},{"p":"E4","s":"ππ*","t":600,"v":0.028},{"p":"E4","s":"ππ*","t":960,"v":0.03},
{"p":"E4","s":"nσ*","t":0,"v":0},{"p":"E4","s":"nσ*","t":100,"v":0.005},{"p":"E4","s":"nσ*","t":175,"v":0.01},{"p":"E4","s":"nσ*","t":200,"v":0.05},{"p":"E4","s":"nσ*","t":225,"v":0.12},{"p":"E4","s":"nσ*","t":250,"v":0.19},{"p":"E4","s":"nσ*","t":275,"v":0.26},{"p":"E4","s":"nσ*","t":300,"v":0.31},{"p":"E4","s":"nσ*","t":325,"v":0.35},{"p":"E4","s":"nσ*","t":350,"v":0.37},{"p":"E4","s":"nσ*","t":375,"v":0.39},{"p":"E4","s":"nσ*","t":400,"v":0.4},{"p":"E4","s":"nσ*","t":450,"v":0.415},{"p":"E4","s":"nσ*","t":500,"v":0.42},{"p":"E4","s":"nσ*","t":600,"v":0.43},{"p":"E4","s":"nσ*","t":700,"v":0.435},{"p":"E4","s":"nσ*","t":800,"v":0.44},{"p":"E4","s":"nσ*","t":960,"v":0.44}
],
"pf":[
{"p":"F1","s":"F","g":1,"v":0.87},{"p":"F1","s":"F","g":2,"v":0.97},{"p":"F1","s":"F","g":6,"v":0.97},{"p":"F1","s":"F","g":7,"v":0.963},{"p":"F1","s":"F","g":8,"v":0.968},{"p":"F1","s":"F","g":10,"v":0.968},{"p":"F1","s":"F","g":11,"v":0.958},{"p":"F1","s":"F","g":12,"v":0.955},{"p":"F1","s":"F","g":13,"v":0.968},{"p":"F1","s":"F","g":14,"v":0.97},{"p":"F1","s":"F","g":15,"v":0.978},{"p":"F1","s":"F","g":27,"v":0.978},
{"p":"F1","s":"J","g":1,"v":0.59},{"p":"F1","s":"J","g":2,"v":0.82},{"p":"F1","s":"J","g":5,"v":0.823},{"p":"F1","s":"J","g":9,"v":0.826},{"p":"F1","s":"J","g":10,"v":0.83},{"p":"F1","s":"J","g":11,"v":0.955},{"p":"F1","s":"J","g":12,"v":0.957},{"p":"F1","s":"J","g":13,"v":0.965},{"p":"F1","s":"J","g":14,"v":0.968},{"p":"F1","s":"J","g":15,"v":0.975},{"p":"F1","s":"J","g":27,"v":0.976},
{"p":"F2","s":"F","g":1,"v":0.903},{"p":"F2","s":"F","g":2,"v":0.925},{"p":"F2","s":"F","g":3,"v":0.945},{"p":"F2","s":"F","g":5,"v":0.95},{"p":"F2","s":"F","g":6,"v":0.965},{"p":"F2","s":"F","g":7,"v":0.975},{"p":"F2","s":"F","g":17,"v":0.975},{"p":"F2","s":"F","g":18,"v":0.965},{"p":"F2","s":"F","g":22,"v":0.965},{"p":"F2","s":"F","g":23,"v":0.97},{"p":"F2","s":"F","g":37,"v":0.97},
{"p":"F2","s":"J","g":1,"v":0.61},{"p":"F2","s":"J","g":2,"v":0.77},{"p":"F2","s":"J","g":3,"v":0.8},{"p":"F2","s":"J","g":4,"v":0.81},{"p":"F2","s":"J","g":5,"v":0.815},{"p":"F2","s":"J","g":6,"v":0.825},{"p":"F2","s":"J","g":7,"v":0.832},{"p":"F2","s":"J","g":15,"v":0.835},{"p":"F2","s":"J","g":16,"v":0.84},{"p":"F2","s":"J","g":21,"v":0.842},{"p":"F2","s":"J","g":22,"v":0.96},{"p":"F2","s":"J","g":23,"v":0.965},{"p":"F2","s":"J","g":37,"v":0.967},
{"p":"F3","s":"F","g":1,"v":0.63},{"p":"F3","s":"F","g":2,"v":0.875},{"p":"F3","s":"F","g":3,"v":0.875},{"p":"F3","s":"F","g":4,"v":0.955},{"p":"F3","s":"F","g":5,"v":0.97},{"p":"F3","s":"F","g":6,"v":0.985},{"p":"F3","s":"F","g":24,"v":0.987},
{"p":"F3","s":"J","g":1,"v":0.63},{"p":"F3","s":"J","g":2,"v":0.79},{"p":"F3","s":"J","g":3,"v":0.84},{"p":"F3","s":"J","g":4,"v":0.94},{"p":"F3","s":"J","g":5,"v":0.965},{"p":"F3","s":"J","g":6,"v":0.978},{"p":"F3","s":"J","g":24,"v":0.98},
{"p":"F4","s":"F","g":1,"v":0.72},{"p":"F4","s":"F","g":2,"v":0.845},{"p":"F4","s":"F","g":3,"v":0.845},{"p":"F4","s":"F","g":4,"v":0.975},{"p":"F4","s":"F","g":6,"v":0.978},{"p":"F4","s":"F","g":8,"v":0.98},{"p":"F4","s":"F","g":10,"v":0.985},{"p":"F4","s":"F","g":12,"v":0.99},{"p":"F4","s":"F","g":52,"v":0.992},
{"p":"F4","s":"J","g":1,"v":0.72},{"p":"F4","s":"J","g":2,"v":0.8},{"p":"F4","s":"J","g":3,"v":0.84},{"p":"F4","s":"J","g":4,"v":0.965},{"p":"F4","s":"J","g":5,"v":0.97},{"p":"F4","s":"J","g":8,"v":0.978},{"p":"F4","s":"J","g":10,"v":0.983},{"p":"F4","s":"J","g":12,"v":0.985},{"p":"F4","s":"J","g":52,"v":0.986}
],
"lab":[
{"p":"A1","k":"b","x":826,"y":0.0125,"txt":"(A1)"},{"p":"A2","k":"b","x":872,"y":0.0165,"txt":"(A2)"},{"p":"A3","k":"b","x":880,"y":0.0172,"txt":"(A3)"},{"p":"A4","k":"b","x":872,"y":0.025,"txt":"(A4)"},
{"p":"B1","k":"b","x":41750,"y":0.016,"txt":"(B1)"},{"p":"B1","k":"n","x":38870,"y":0.016,"txt":"(38752 cm⁻¹)"},
{"p":"B2","k":"b","x":39790,"y":0.008,"txt":"(B2)"},{"p":"B2","k":"n","x":37990,"y":0.008,"txt":"(37495 cm⁻¹)"},
{"p":"B3","k":"b","x":41650,"y":0.016,"txt":"(B3)"},{"p":"B3","k":"n","x":39050,"y":0.016,"txt":"(38168 cm⁻¹)"},
{"p":"B4","k":"b","x":41630,"y":0.016,"txt":"(B4)"},{"p":"B4","k":"n","x":39020,"y":0.016,"txt":"(38585 cm⁻¹)"},
{"p":"C1","k":"b","x":526,"y":0.88,"txt":"(C1)"},{"p":"C2","k":"b","x":534,"y":0.88,"txt":"(C2)"},{"p":"C3","k":"b","x":536,"y":0.88,"txt":"(C3)"},{"p":"C4","k":"b","x":564,"y":0.88,"txt":"(C4)"},
{"p":"D1","k":"b","x":526,"y":0.885,"txt":"(D1)"},{"p":"D2","k":"b","x":534,"y":0.89,"txt":"(D2)"},{"p":"D3","k":"b","x":548,"y":0.86,"txt":"(D3)"},{"p":"D4","k":"b","x":581,"y":0.9,"txt":"(D4)"},
{"p":"E1","k":"b","x":819,"y":0.77,"txt":"(E1)"},{"p":"E2","k":"b","x":828,"y":0.78,"txt":"(E2)"},{"p":"E3","k":"b","x":844,"y":0.78,"txt":"(E3)"},{"p":"E4","k":"b","x":864,"y":0.78,"txt":"(E4)"},
{"p":"F1","k":"b","x":28.5,"y":0.863,"txt":"(F1)"},{"p":"F2","k":"b","x":36.4,"y":0.87,"txt":"(F1)"},{"p":"F3","k":"b","x":28,"y":0.866,"txt":"(F3)"},{"p":"F4","k":"b","x":51.6,"y":0.863,"txt":"(F4)"}
]
},
"columns":4,
"spacing":{"row":41,"column":59},
"bounds":"flush",
"align":"each",
"resolve":{"scale":{"color":"independent","strokeDash":"independent"}},
"concat":[
{"width":224,"height":107,"title":{"text":"|1, 0⟩","dx":10},"layer":[
 {"data":{"name":"fa"},"transform":[{"filter":"datum.p=='A1'"}],"mark":{"type":"area","color":"#ff0000"},"encoding":{"x":{"field":"t","type":"quantitative","scale":{"domain":[0,960],"nice":false},"axis":{"values":[0,200,400,600,800],"title":"time [fs]"}},"y":{"field":"hi","type":"quantitative","scale":{"domain":[-0.02,0.02],"nice":false},"axis":{"values":[-0.02,-0.01,0,0.01,0.02],"title":"Field amplitude [a.u.]","titleX":-44}},"y2":{"field":"lo"}}},
 {"data":{"name":"lab"},"transform":[{"filter":"datum.p=='A1'"}],"mark":{"type":"text","fontWeight":"bold","fontSize":14,"font":"Liberation Sans"},"encoding":{"x":{"field":"x","type":"quantitative","axis":{"orient":"top","labels":false,"title":null,"values":[0,200,400,600,800]}},"y":{"field":"y","type":"quantitative","axis":{"orient":"right","labels":false,"title":null,"values":[-0.02,-0.01,0,0.01,0.02]}},"text":{"field":"txt"}}}
],"resolve":{"axis":{"x":"independent","y":"independent"}}},
{"width":224,"height":107,"title":{"text":"|1, 1⟩","dx":35},"layer":[
 {"data":{"name":"fa"},"transform":[{"filter":"datum.p=='A2'"}],"mark":{"type":"area","color":"#ff0000"},"encoding":{"x":{"field":"t","type":"quantitative","scale":{"domain":[0,960],"nice":false},"axis":{"values":[0,200,400,600,800],"title":"time [fs]"}},"y":{"field":"hi","type":"quantitative","scale":{"domain":[-0.02,0.02],"nice":false},"axis":{"values":[-0.02,-0.01,0,0.01,0.02],"title":null}},"y2":{"field":"lo"}}},
 {"data":{"name":"lab"},"transform":[{"filter":"datum.p=='A2'"}],"mark":{"type":"text","fontWeight":"bold","fontSize":14,"font":"Liberation Sans"},"encoding":{"x":{"field":"x","type":"quantitative","axis":{"orient":"top","labels":false,"title":null,"values":[0,200,400,600,800]}},"y":{"field":"y","type":"quantitative","axis":{"orient":"right","labels":false,"title":null,"values":[-0.02,-0.01,0,0.01,0.02]}},"text":{"field":"txt"}}}
],"resolve":{"axis":{"x":"independent","y":"independent"}}},
{"width":224,"height":107,"title":{"text":"|1, 2⟩","dx":62},"layer":[
 {"data":{"name":"fa"},"transform":[{"filter":"datum.p=='A3'"}],"mark":{"type":"area","color":"#ff0000"},"encoding":{"x":{"field":"t","type":"quantitative","scale":{"domain":[0,960],"nice":false},"axis":{"values":[0,200,400,600,800],"title":"time [fs]"}},"y":{"field":"hi","type":"quantitative","scale":{"domain":[-0.02,0.02],"nice":false},"axis":{"values":[-0.02,-0.01,0,0.01,0.02],"title":null}},"y2":{"field":"lo"}}},
 {"data":{"name":"lab"},"transform":[{"filter":"datum.p=='A3'"}],"mark":{"type":"text","fontWeight":"bold","fontSize":14,"font":"Liberation Sans"},"encoding":{"x":{"field":"x","type":"quantitative","axis":{"orient":"top","labels":false,"title":null,"values":[0,200,400,600,800]}},"y":{"field":"y","type":"quantitative","axis":{"orient":"right","labels":false,"title":null,"values":[-0.02,-0.01,0,0.01,0.02]}},"text":{"field":"txt"}}}
],"resolve":{"axis":{"x":"independent","y":"independent"}}},
{"width":224,"height":107,"title":{"text":"|1, 3⟩","dx":42},"layer":[
 {"data":{"name":"fa"},"transform":[{"filter":"datum.p=='A4'"}],"mark":{"type":"area","color":"#ff0000"},"encoding":{"x":{"field":"t","type":"quantitative","scale":{"domain":[0,960],"nice":false},"axis":{"values":[0,200,400,600,800],"title":"time [fs]"}},"y":{"field":"hi","type":"quantitative","scale":{"domain":[-0.03,0.03],"nice":false},"axis":{"values":[-0.03,-0.01,0,0.01,0.03],"title":null}},"y2":{"field":"lo"}}},
 {"data":{"name":"lab"},"transform":[{"filter":"datum.p=='A4'"}],"mark":{"type":"text","fontWeight":"bold","fontSize":14,"font":"Liberation Sans"},"encoding":{"x":{"field":"x","type":"quantitative","axis":{"orient":"top","labels":false,"title":null,"values":[0,200,400,600,800]}},"y":{"field":"y","type":"quantitative","axis":{"orient":"right","labels":false,"title":null,"values":[-0.03,-0.01,0,0.01,0.03]}},"text":{"field":"txt"}}}
],"resolve":{"axis":{"x":"independent","y":"independent"}}},
{"width":224,"height":109,"layer":[
 {"data":{"name":"fb"},"transform":[{"filter":"datum.p=='B1'"}],"mark":{"type":"line","color":"#c84a4a","strokeWidth":1.2},"encoding":{"x":{"field":"f","type":"quantitative","scale":{"domain":[35500,42500],"nice":false},"axis":{"values":[36000,38000,40000,42000],"title":"Frequency [cm⁻¹]"}},"y":{"field":"v","type":"quantitative","scale":{"domain":[0,0.02],"nice":false},"axis":{"values":[0,0.01,0.02],"title":"Intensity (arb. units)","titleX":-44}}}},
 {"data":{"name":"lab"},"transform":[{"filter":"datum.p=='B1' && datum.k=='b'"}],"mark":{"type":"text","fontWeight":"bold","fontSize":14,"font":"Liberation Sans"},"encoding":{"x":{"field":"x","type":"quantitative","axis":{"orient":"top","labels":false,"title":null,"values":[36000,38000,40000,42000]}},"y":{"field":"y","type":"quantitative","axis":{"orient":"right","labels":false,"title":null,"values":[0,0.01,0.02]}},"text":{"field":"txt"}}},
 {"data":{"name":"lab"},"transform":[{"filter":"datum.p=='B1' && datum.k=='n'"}],"mark":{"type":"text","fontSize":13,"font":"Liberation Sans","color":"#111"},"encoding":{"x":{"field":"x","type":"quantitative","axis":null},"y":{"field":"y","type":"quantitative","axis":null},"text":{"field":"txt"}}}
],"resolve":{"axis":{"x":"independent","y":"independent"}}},
{"width":224,"height":109,"layer":[
 {"data":{"name":"fb"},"transform":[{"filter":"datum.p=='B2'"}],"mark":{"type":"line","color":"#c84a4a","strokeWidth":1.2},"encoding":{"x":{"field":"f","type":"quantitative","scale":{"domain":[35500,40500],"nice":false},"axis":{"values":[36000,38000,40000],"title":"Frequency [cm⁻¹]"}},"y":{"field":"v","type":"quantitative","scale":{"domain":[0,0.01],"nice":false},"axis":{"values":[0,0.005,0.01],"title":null}}}},
 {"data":{"name":"lab"},"transform":[{"filter":"datum.p=='B2' && datum.k=='b'"}],"mark":{"type":"text","fontWeight":"bold","fontSize":14,"font":"Liberation Sans"},"encoding":{"x":{"field":"x","type":"quantitative","axis":{"orient":"top","labels":false,"title":null,"values":[36000,38000,40000]}},"y":{"field":"y","type":"quantitative","axis":{"orient":"right","labels":false,"title":null,"values":[0,0.005,0.01]}},"text":{"field":"txt"}}},
 {"data":{"name":"lab"},"transform":[{"filter":"datum.p=='B2' && datum.k=='n'"}],"mark":{"type":"text","fontSize":13,"font":"Liberation Sans","color":"#111"},"encoding":{"x":{"field":"x","type":"quantitative","axis":null},"y":{"field":"y","type":"quantitative","axis":null},"text":{"field":"txt"}}}
],"resolve":{"axis":{"x":"independent","y":"independent"}}},
{"width":224,"height":109,"layer":[
 {"data":{"name":"fb"},"transform":[{"filter":"datum.p=='B3'"}],"mark":{"type":"line","color":"#c84a4a","strokeWidth":1.2},"encoding":{"x":{"field":"f","type":"quantitative","scale":{"domain":[35500,42500],"nice":false},"axis":{"values":[36000,38000,40000,42000],"title":"Frequency [cm⁻¹]"}},"y":{"field":"v","type":"quantitative","scale":{"domain":[0,0.02],"nice":false},"axis":{"values":[0,0.01,0.02],"title":null}}}},
 {"data":{"name":"lab"},"transform":[{"filter":"datum.p=='B3' && datum.k=='b'"}],"mark":{"type":"text","fontWeight":"bold","fontSize":14,"font":"Liberation Sans"},"encoding":{"x":{"field":"x","type":"quantitative","axis":{"orient":"top","labels":false,"title":null,"values":[36000,38000,40000,42000]}},"y":{"field":"y","type":"quantitative","axis":{"orient":"right","labels":false,"title":null,"values":[0,0.01,0.02]}},"text":{"field":"txt"}}},
 {"data":{"name":"lab"},"transform":[{"filter":"datum.p=='B3' && datum.k=='n'"}],"mark":{"type":"text","fontSize":13,"font":"Liberation Sans","color":"#111"},"encoding":{"x":{"field":"x","type":"quantitative","axis":null},"y":{"field":"y","type":"quantitative","axis":null},"text":{"field":"txt"}}}
],"resolve":{"axis":{"x":"independent","y":"independent"}}},
{"width":224,"height":109,"layer":[
 {"data":{"name":"fb"},"transform":[{"filter":"datum.p=='B4'"}],"mark":{"type":"line","color":"#c84a4a","strokeWidth":1.2},"encoding":{"x":{"field":"f","type":"quantitative","scale":{"domain":[35500,42500],"nice":false},"axis":{"values":[36000,38000,40000,42000],"title":"Frequency [cm⁻¹]"}},"y":{"field":"v","type":"quantitative","scale":{"domain":[0,0.02],"nice":false},"axis":{"values":[0,0.01,0.02],"title":null}}}},
 {"data":{"name":"lab"},"transform":[{"filter":"datum.p=='B4' && datum.k=='b'"}],"mark":{"type":"text","fontWeight":"bold","fontSize":14,"font":"Liberation Sans"},"encoding":{"x":{"field":"x","type":"quantitative","axis":{"orient":"top","labels":false,"title":null,"values":[36000,38000,40000,42000]}},"y":{"field":"y","type":"quantitative","axis":{"orient":"right","labels":false,"title":null,"values":[0,0.01,0.02]}},"text":{"field":"txt"}}},
 {"data":{"name":"lab"},"transform":[{"filter":"datum.p=='B4' && datum.k=='n'"}],"mark":{"type":"text","fontSize":13,"font":"Liberation Sans","color":"#111"},"encoding":{"x":{"field":"x","type":"quantitative","axis":null},"y":{"field":"y","type":"quantitative","axis":null},"text":{"field":"txt"}}}
],"resolve":{"axis":{"x":"independent","y":"independent"}}},
{"width":224,"height":107,"layer":[
 {"data":{"name":"pc"},"transform":[{"filter":"datum.p=='C1'"}],"mark":{"type":"line","strokeWidth":2.5},"encoding":{"x":{"field":"t","type":"quantitative","scale":{"domain":[0,960],"nice":false},"axis":{"values":[0,200,400,600,800],"title":"Time [fs]"}},"y":{"field":"v","type":"quantitative","scale":{"domain":[0,1],"nice":false},"axis":{"values":[0,0.2,0.4,0.6,0.8,1],"title":"Population","titleX":-44}},"color":{"field":"s","type":"nominal","scale":{"domain":["ππ","ππ*","nσ*"],"range":["#f01818","#1e7d1e","#13139c"]},"legend":{"title":null,"orient":"none","legendX":162,"legendY":0}}}},
 {"data":{"name":"bd"},"transform":[{"filter":"datum.p=='C1' && datum.s=='r'"}],"mark":{"type":"area","color":"#f01818"},"encoding":{"x":{"field":"t","type":"quantitative","axis":null},"y":{"field":"hi","type":"quantitative","axis":null},"y2":{"field":"lo"}}},
 {"data":{"name":"bd"},"transform":[{"filter":"datum.p=='C1' && datum.s=='b'"}],"mark":{"type":"area","color":"#13139c"},"encoding":{"x":{"field":"t","type":"quantitative","axis":null},"y":{"field":"hi","type":"quantitative","axis":null},"y2":{"field":"lo"}}},
 {"data":{"name":"lab"},"transform":[{"filter":"datum.p=='C1'"}],"mark":{"type":"text","fontWeight":"bold","fontSize":14,"font":"Liberation Sans"},"encoding":{"x":{"field":"x","type":"quantitative","axis":{"orient":"top","labels":false,"title":null,"values":[0,200,400,600,800]}},"y":{"field":"y","type":"quantitative","axis":{"orient":"right","labels":false,"title":null,"values":[0,0.2,0.4,0.6,0.8,1]}},"text":{"field":"txt"}}}
],"resolve":{"axis":{"x":"independent","y":"independent"}}},
{"width":224,"height":107,"layer":[
 {"data":{"name":"pc"},"transform":[{"filter":"datum.p=='C2'"}],"mark":{"type":"line","strokeWidth":2.5},"encoding":{"x":{"field":"t","type":"quantitative","scale":{"domain":[0,960],"nice":false},"axis":{"values":[0,200,400,600,800],"title":"Time [fs]"}},"y":{"field":"v","type":"quantitative","scale":{"domain":[0,1],"nice":false},"axis":{"values":[0,0.2,0.4,0.6,0.8,1],"title":null}},"color":{"field":"s","type":"nominal","scale":{"domain":["ππ","ππ*","nσ*"],"range":["#f01818","#1e7d1e","#13139c"]},"legend":{"title":null,"orient":"none","legendX":166,"legendY":0}}}},
 {"data":{"name":"lab"},"transform":[{"filter":"datum.p=='C2'"}],"mark":{"type":"text","fontWeight":"bold","fontSize":14,"font":"Liberation Sans"},"encoding":{"x":{"field":"x","type":"quantitative","axis":{"orient":"top","labels":false,"title":null,"values":[0,200,400,600,800]}},"y":{"field":"y","type":"quantitative","axis":{"orient":"right","labels":false,"title":null,"values":[0,0.2,0.4,0.6,0.8,1]}},"text":{"field":"txt"}}}
],"resolve":{"axis":{"x":"independent","y":"independent"}}},
{"width":224,"height":107,"layer":[
 {"data":{"name":"pc"},"transform":[{"filter":"datum.p=='C3'"}],"mark":{"type":"line","strokeWidth":2.5},"encoding":{"x":{"field":"t","type":"quantitative","scale":{"domain":[0,960],"nice":false},"axis":{"values":[0,200,400,600,800],"title":"Time [fs]"}},"y":{"field":"v","type":"quantitative","scale":{"domain":[0,1],"nice":false},"axis":{"values":[0,0.2,0.4,0.6,0.8,1],"title":null}},"color":{"field":"s","type":"nominal","scale":{"domain":["ππ","ππ*","nσ*"],"range":["#f01818","#1e7d1e","#13139c"]},"legend":{"title":null,"orient":"none","legendX":168,"legendY":0}}}},
 {"data":{"name":"bd"},"transform":[{"filter":"datum.p=='C3' && datum.s=='r' && datum.t<200"}],"mark":{"type":"area","color":"#f01818"},"encoding":{"x":{"field":"t","type":"quantitative","axis":null},"y":{"field":"hi","type":"quantitative","axis":null},"y2":{"field":"lo"}}},
 {"data":{"name":"bd"},"transform":[{"filter":"datum.p=='C3' && datum.s=='r' && datum.t>200"}],"mark":{"type":"area","color":"#f01818"},"encoding":{"x":{"field":"t","type":"quantitative","axis":null},"y":{"field":"hi","type":"quantitative","axis":null},"y2":{"field":"lo"}}},
 {"data":{"name":"bd"},"transform":[{"filter":"datum.p=='C3' && datum.s=='b'"}],"mark":{"type":"area","color":"#13139c"},"encoding":{"x":{"field":"t","type":"quantitative","axis":null},"y":{"field":"hi","type":"quantitative","axis":null},"y2":{"field":"lo"}}},
 {"data":{"name":"lab"},"transform":[{"filter":"datum.p=='C3'"}],"mark":{"type":"text","fontWeight":"bold","fontSize":14,"font":"Liberation Sans"},"encoding":{"x":{"field":"x","type":"quantitative","axis":{"orient":"top","labels":false,"title":null,"values":[0,200,400,600,800]}},"y":{"field":"y","type":"quantitative","axis":{"orient":"right","labels":false,"title":null,"values":[0,0.2,0.4,0.6,0.8,1]}},"text":{"field":"txt"}}}
],"resolve":{"axis":{"x":"independent","y":"independent"}}},
{"width":224,"height":107,"layer":[
 {"data":{"name":"pc"},"transform":[{"filter":"datum.p=='C4'"}],"mark":{"type":"line","strokeWidth":2.5},"encoding":{"x":{"field":"t","type":"quantitative","scale":{"domain":[0,960],"nice":false},"axis":{"values":[0,200,400,600,800],"title":"Time [fs]"}},"y":{"field":"v","type":"quantitative","scale":{"domain":[0,1],"nice":false},"axis":{"values":[0,0.2,0.4,0.6,0.8,1],"title":null}},"color":{"field":"s","type":"nominal","scale":{"domain":["ππ","ππ*","nσ*"],"range":["#f01818","#1e7d1e","#13139c"]},"legend":{"title":null,"orient":"none","legendX":172,"legendY":0}}}},
 {"data":{"name":"bd"},"transform":[{"filter":"datum.p=='C4' && datum.s=='r'"}],"mark":{"type":"area","color":"#f01818"},"encoding":{"x":{"field":"t","type":"quantitative","axis":null},"y":{"field":"hi","type":"quantitative","axis":null},"y2":{"field":"lo"}}},
 {"data":{"name":"bd"},"transform":[{"filter":"datum.p=='C4' && datum.s=='b'"}],"mark":{"type":"area","color":"#13139c"},"encoding":{"x":{"field":"t","type":"quantitative","axis":null},"y":{"field":"hi","type":"quantitative","axis":null},"y2":{"field":"lo"}}},
 {"data":{"name":"lab"},"transform":[{"filter":"datum.p=='C4'"}],"mark":{"type":"text","fontWeight":"bold","fontSize":14,"font":"Liberation Sans"},"encoding":{"x":{"field":"x","type":"quantitative","axis":{"orient":"top","labels":false,"title":null,"values":[0,200,400,600,800]}},"y":{"field":"y","type":"quantitative","axis":{"orient":"right","labels":false,"title":null,"values":[0,0.2,0.4,0.6,0.8,1]}},"text":{"field":"txt"}}}
],"resolve":{"axis":{"x":"independent","y":"independent"}}},
{"width":224,"height":113,"layer":[
 {"data":{"name":"pd"},"transform":[{"filter":"datum.p=='D1'"}],"mark":{"type":"line","strokeWidth":1.6},"encoding":{"x":{"field":"t","type":"quantitative","scale":{"domain":[0,960],"nice":false},"axis":{"values":[0,200,400,600,800],"title":"Time [fs]"}},"y":{"field":"v","type":"quantitative","scale":{"domain":[0,1],"nice":false},"axis":{"values":[0,0.2,0.4,0.6,0.8,1],"title":"Population","titleX":-44}},"color":{"field":"s","type":"nominal","scale":{"domain":["S₂","S₁","S₀"],"range":["#13139c","#1e7d1e","#f01818"]},"legend":{"title":null,"orient":"none","legendX":177,"legendY":43,"labelFontSize":12,"labelOffset":12}}}},
 {"data":{"name":"lab"},"transform":[{"filter":"datum.p=='D1'"}],"mark":{"type":"text","fontWeight":"bold","fontSize":14,"font":"Liberation Sans"},"encoding":{"x":{"field":"x","type":"quantitative","axis":{"orient":"top","labels":false,"title":null,"values":[0,200,400,600,800]}},"y":{"field":"y","type":"quantitative","axis":{"orient":"right","labels":false,"title":null,"values":[0,0.2,0.4,0.6,0.8,1]}},"text":{"field":"txt"}}}
],"resolve":{"axis":{"x":"independent","y":"independent"}}},
{"width":224,"height":113,"layer":[
 {"data":{"name":"pd"},"transform":[{"filter":"datum.p=='D2'"}],"mark":{"type":"line","strokeWidth":1.6},"encoding":{"x":{"field":"t","type":"quantitative","scale":{"domain":[0,960],"nice":false},"axis":{"values":[0,200,400,600,800],"title":"Time [fs]"}},"y":{"field":"v","type":"quantitative","scale":{"domain":[0,1],"nice":false},"axis":{"values":[0,0.2,0.4,0.6,0.8,1],"title":null}},"color":{"field":"s","type":"nominal","scale":{"domain":["S₂","S₁","S₀"],"range":["#13139c","#1e7d1e","#f01818"]},"legend":{"title":null,"orient":"none","legendX":180,"legendY":6,"labelFontSize":12,"labelOffset":12}}}},
 {"data":{"name":"lab"},"transform":[{"filter":"datum.p=='D2'"}],"mark":{"type":"text","fontWeight":"bold","fontSize":14,"font":"Liberation Sans"},"encoding":{"x":{"field":"x","type":"quantitative","axis":{"orient":"top","labels":false,"title":null,"values":[0,200,400,600,800]}},"y":{"field":"y","type":"quantitative","axis":{"orient":"right","labels":false,"title":null,"values":[0,0.2,0.4,0.6,0.8,1]}},"text":{"field":"txt"}}}
],"resolve":{"axis":{"x":"independent","y":"independent"}}},
{"width":224,"height":113,"layer":[
 {"data":{"name":"pd"},"transform":[{"filter":"datum.p=='D3'"}],"mark":{"type":"line","strokeWidth":1.6},"encoding":{"x":{"field":"t","type":"quantitative","scale":{"domain":[0,960],"nice":false},"axis":{"values":[0,200,400,600,800],"title":"Time [fs]"}},"y":{"field":"v","type":"quantitative","scale":{"domain":[0,1],"nice":false},"axis":{"values":[0,0.2,0.4,0.6,0.8,1],"title":null}},"color":{"field":"s","type":"nominal","scale":{"domain":["S₂","S₁","S₀"],"range":["#13139c","#1e7d1e","#f01818"]},"legend":{"title":null,"orient":"none","legendX":184,"legendY":7,"labelFontSize":12,"labelOffset":12}}}},
 {"data":{"name":"lab"},"transform":[{"filter":"datum.p=='D3'"}],"mark":{"type":"text","fontWeight":"bold","fontSize":14,"font":"Liberation Sans"},"encoding":{"x":{"field":"x","type":"quantitative","axis":{"orient":"top","labels":false,"title":null,"values":[0,200,400,600,800]}},"y":{"field":"y","type":"quantitative","axis":{"orient":"right","labels":false,"title":null,"values":[0,0.2,0.4,0.6,0.8,1]}},"text":{"field":"txt"}}}
],"resolve":{"axis":{"x":"independent","y":"independent"}}},
{"width":224,"height":113,"layer":[
 {"data":{"name":"pd"},"transform":[{"filter":"datum.p=='D4'"}],"mark":{"type":"line","strokeWidth":1.6},"encoding":{"x":{"field":"t","type":"quantitative","scale":{"domain":[0,960],"nice":false},"axis":{"values":[0,200,400,600,800],"title":"Time [fs]"}},"y":{"field":"v","type":"quantitative","scale":{"domain":[0,1],"nice":false},"axis":{"values":[0,0.2,0.4,0.6,0.8,1],"title":null}},"color":{"field":"s","type":"nominal","scale":{"domain":["S₂","S₁","S₀"],"range":["#13139c","#1e7d1e","#f01818"]},"legend":{"title":null,"orient":"none","legendX":188,"legendY":2,"labelFontSize":12,"labelOffset":12}}}},
 {"data":{"name":"lab"},"transform":[{"filter":"datum.p=='D4'"}],"mark":{"type":"text","fontWeight":"bold","fontSize":14,"font":"Liberation Sans"},"encoding":{"x":{"field":"x","type":"quantitative","axis":{"orient":"top","labels":false,"title":null,"values":[0,200,400,600,800]}},"y":{"field":"y","type":"quantitative","axis":{"orient":"right","labels":false,"title":null,"values":[0,0.2,0.4,0.6,0.8,1]}},"text":{"field":"txt"}}}
],"resolve":{"axis":{"x":"independent","y":"independent"}}},
{"width":224,"height":114,"layer":[
 {"data":{"name":"pe"},"transform":[{"filter":"datum.p=='E1'"}],"mark":{"type":"line","strokeWidth":1.6},"encoding":{"x":{"field":"t","type":"quantitative","scale":{"domain":[0,960],"nice":false},"axis":{"values":[0,200,400,600,800],"title":"Time [fs]"}},"y":{"field":"v","type":"quantitative","scale":{"domain":[0,1],"nice":false},"axis":{"values":[0,0.2,0.4,0.6,0.8,1],"title":"Flux","titleX":-44}},"color":{"field":"s","type":"nominal","scale":{"domain":["ππ","ππ*","nσ*"],"range":["#f01818","#1e7d1e","#13139c"]},"legend":{"title":null,"orient":"none","legendX":62,"legendY":1}}}},
 {"data":{"name":"lab"},"transform":[{"filter":"datum.p=='E1'"}],"mark":{"type":"text","fontWeight":"bold","fontSize":14,"font":"Liberation Sans"},"encoding":{"x":{"field":"x","type":"quantitative","axis":{"orient":"top","labels":false,"title":null,"values":[0,200,400,600,800]}},"y":{"field":"y","type":"quantitative","axis":{"orient":"right","labels":false,"title":null,"values":[0,0.2,0.4,0.6,0.8,1]}},"text":{"field":"txt"}}}
],"resolve":{"axis":{"x":"independent","y":"independent"}}},
{"width":224,"height":114,"layer":[
 {"data":{"name":"pe"},"transform":[{"filter":"datum.p=='E2'"}],"mark":{"type":"line","strokeWidth":1.6},"encoding":{"x":{"field":"t","type":"quantitative","scale":{"domain":[0,960],"nice":false},"axis":{"values":[0,200,400,600,800],"title":"Time [fs]"}},"y":{"field":"v","type":"quantitative","scale":{"domain":[0,1],"nice":false},"axis":{"values":[0,0.2,0.4,0.6,0.8,1],"title":null}},"color":{"field":"s","type":"nominal","scale":{"domain":["ππ","ππ*","nσ*"],"range":["#f01818","#1e7d1e","#13139c"]},"legend":{"title":null,"orient":"none","legendX":62,"legendY":1}}}},
 {"data":{"name":"lab"},"transform":[{"filter":"datum.p=='E2'"}],"mark":{"type":"text","fontWeight":"bold","fontSize":14,"font":"Liberation Sans"},"encoding":{"x":{"field":"x","type":"quantitative","axis":{"orient":"top","labels":false,"title":null,"values":[0,200,400,600,800]}},"y":{"field":"y","type":"quantitative","axis":{"orient":"right","labels":false,"title":null,"values":[0,0.2,0.4,0.6,0.8,1]}},"text":{"field":"txt"}}}
],"resolve":{"axis":{"x":"independent","y":"independent"}}},
{"width":224,"height":114,"layer":[
 {"data":{"name":"pe"},"transform":[{"filter":"datum.p=='E3'"}],"mark":{"type":"line","strokeWidth":1.6},"encoding":{"x":{"field":"t","type":"quantitative","scale":{"domain":[0,960],"nice":false},"axis":{"values":[0,200,400,600,800],"title":"Time [fs]"}},"y":{"field":"v","type":"quantitative","scale":{"domain":[0,1],"nice":false},"axis":{"values":[0,0.2,0.4,0.6,0.8,1],"title":null}},"color":{"field":"s","type":"nominal","scale":{"domain":["ππ","ππ*","nσ*"],"range":["#f01818","#1e7d1e","#13139c"]},"legend":{"title":null,"orient":"none","legendX":62,"legendY":1}}}},
 {"data":{"name":"lab"},"transform":[{"filter":"datum.p=='E3'"}],"mark":{"type":"text","fontWeight":"bold","fontSize":14,"font":"Liberation Sans"},"encoding":{"x":{"field":"x","type":"quantitative","axis":{"orient":"top","labels":false,"title":null,"values":[0,200,400,600,800]}},"y":{"field":"y","type":"quantitative","axis":{"orient":"right","labels":false,"title":null,"values":[0,0.2,0.4,0.6,0.8,1]}},"text":{"field":"txt"}}}
],"resolve":{"axis":{"x":"independent","y":"independent"}}},
{"width":224,"height":114,"layer":[
 {"data":{"name":"pe"},"transform":[{"filter":"datum.p=='E4'"}],"mark":{"type":"line","strokeWidth":1.6},"encoding":{"x":{"field":"t","type":"quantitative","scale":{"domain":[0,960],"nice":false},"axis":{"values":[0,200,400,600,800],"title":"Time [fs]"}},"y":{"field":"v","type":"quantitative","scale":{"domain":[0,1],"nice":false},"axis":{"values":[0,0.2,0.4,0.6,0.8,1],"title":null}},"color":{"field":"s","type":"nominal","scale":{"domain":["ππ","ππ*","nσ*"],"range":["#f01818","#1e7d1e","#13139c"]},"legend":{"title":null,"orient":"none","legendX":62,"legendY":1}}}},
 {"data":{"name":"lab"},"transform":[{"filter":"datum.p=='E4'"}],"mark":{"type":"text","fontWeight":"bold","fontSize":14,"font":"Liberation Sans"},"encoding":{"x":{"field":"x","type":"quantitative","axis":{"orient":"top","labels":false,"title":null,"values":[0,200,400,600,800]}},"y":{"field":"y","type":"quantitative","axis":{"orient":"right","labels":false,"title":null,"values":[0,0.2,0.4,0.6,0.8,1]}},"text":{"field":"txt"}}}
],"resolve":{"axis":{"x":"independent","y":"independent"}}},
{"width":224,"height":113,"layer":[
 {"data":{"name":"pf"},"transform":[{"filter":"datum.p=='F1'"}],"mark":{"type":"line","strokeWidth":1.5},"encoding":{"x":{"field":"g","type":"quantitative","scale":{"domain":[0,33],"nice":false},"axis":{"values":[0,10,20,30],"title":"Number of generations"}},"y":{"field":"v","type":"quantitative","scale":{"domain":[0.4,1],"nice":false},"axis":{"values":[0.4,0.6,0.8,1],"title":"Maximum flux value[F]","titleX":-44}},"color":{"field":"s","type":"nominal","scale":{"domain":["F","J"],"range":["#d64ef2","#111111"]},"legend":{"title":null,"orient":"none","legendX":75,"legendY":44,"labelFontSize":12}},"strokeDash":{"field":"s","type":"nominal","scale":{"domain":["F","J"],"range":[[1,0],[5,4]]},"legend":{"title":null,"orient":"none","legendX":75,"legendY":44,"labelFontSize":12}}}},
 {"data":{"name":"lab"},"transform":[{"filter":"datum.p=='F1'"}],"mark":{"type":"text","fontWeight":"bold","fontSize":14,"font":"Liberation Sans"},"encoding":{"x":{"field":"x","type":"quantitative","axis":{"orient":"top","labels":false,"title":null,"values":[0,10,20,30]}},"y":{"field":"y","type":"quantitative","axis":{"orient":"right","labels":false,"title":null,"values":[0.4,0.6,0.8,1]}},"text":{"field":"txt"}}}
],"resolve":{"axis":{"x":"independent","y":"independent"}}},
{"width":224,"height":113,"layer":[
 {"data":{"name":"pf"},"transform":[{"filter":"datum.p=='F2'"}],"mark":{"type":"line","strokeWidth":1.5},"encoding":{"x":{"field":"g","type":"quantitative","scale":{"domain":[0,43],"nice":false},"axis":{"values":[0,10,20,30,40],"title":"Number of generations"}},"y":{"field":"v","type":"quantitative","scale":{"domain":[0.4,1],"nice":false},"axis":{"values":[0.4,0.6,0.8,1],"title":null}},"color":{"field":"s","type":"nominal","scale":{"domain":["F","J"],"range":["#d64ef2","#111111"]},"legend":{"title":null,"orient":"none","legendX":76,"legendY":44,"labelFontSize":12}},"strokeDash":{"field":"s","type":"nominal","scale":{"domain":["F","J"],"range":[[1,0],[5,4]]},"legend":{"title":null,"orient":"none","legendX":76,"legendY":44,"labelFontSize":12}}}},
 {"data":{"name":"lab"},"transform":[{"filter":"datum.p=='F2'"}],"mark":{"type":"text","fontWeight":"bold","fontSize":14,"font":"Liberation Sans"},"encoding":{"x":{"field":"x","type":"quantitative","axis":{"orient":"top","labels":false,"title":null,"values":[0,10,20,30,40]}},"y":{"field":"y","type":"quantitative","axis":{"orient":"right","labels":false,"title":null,"values":[0.4,0.6,0.8,1]}},"text":{"field":"txt"}}}
],"resolve":{"axis":{"x":"independent","y":"independent"}}},
{"width":224,"height":113,"layer":[
 {"data":{"name":"pf"},"transform":[{"filter":"datum.p=='F3'"}],"mark":{"type":"line","strokeWidth":1.5},"encoding":{"x":{"field":"g","type":"quantitative","scale":{"domain":[0,33],"nice":false},"axis":{"values":[0,10,20,30],"title":"Number of generations"}},"y":{"field":"v","type":"quantitative","scale":{"domain":[0.4,1],"nice":false},"axis":{"values":[0.4,0.6,0.8,1],"title":null}},"color":{"field":"s","type":"nominal","scale":{"domain":["F","J"],"range":["#d64ef2","#111111"]},"legend":{"title":null,"orient":"none","legendX":79,"legendY":44,"labelFontSize":12}},"strokeDash":{"field":"s","type":"nominal","scale":{"domain":["F","J"],"range":[[1,0],[5,4]]},"legend":{"title":null,"orient":"none","legendX":79,"legendY":44,"labelFontSize":12}}}},
 {"data":{"name":"lab"},"transform":[{"filter":"datum.p=='F3'"}],"mark":{"type":"text","fontWeight":"bold","fontSize":14,"font":"Liberation Sans"},"encoding":{"x":{"field":"x","type":"quantitative","axis":{"orient":"top","labels":false,"title":null,"values":[0,10,20,30]}},"y":{"field":"y","type":"quantitative","axis":{"orient":"right","labels":false,"title":null,"values":[0.4,0.6,0.8,1]}},"text":{"field":"txt"}}}
],"resolve":{"axis":{"x":"independent","y":"independent"}}},
{"width":224,"height":113,"layer":[
 {"data":{"name":"pf"},"transform":[{"filter":"datum.p=='F4'"}],"mark":{"type":"line","strokeWidth":1.5},"encoding":{"x":{"field":"g","type":"quantitative","scale":{"domain":[0,60],"nice":false},"axis":{"values":[0,20,40,60],"title":"Number of generations"}},"y":{"field":"v","type":"quantitative","scale":{"domain":[0.4,1],"nice":false},"axis":{"values":[0.4,0.6,0.8,1],"title":null}},"color":{"field":"s","type":"nominal","scale":{"domain":["F","J"],"range":["#d64ef2","#111111"]},"legend":{"title":null,"orient":"none","legendX":75,"legendY":44,"labelFontSize":12}},"strokeDash":{"field":"s","type":"nominal","scale":{"domain":["F","J"],"range":[[1,0],[5,4]]},"legend":{"title":null,"orient":"none","legendX":75,"legendY":44,"labelFontSize":12}}}},
 {"data":{"name":"lab"},"transform":[{"filter":"datum.p=='F4'"}],"mark":{"type":"text","fontWeight":"bold","fontSize":14,"font":"Liberation Sans"},"encoding":{"x":{"field":"x","type":"quantitative","axis":{"orient":"top","labels":false,"title":null,"values":[0,20,40,60]}},"y":{"field":"y","type":"quantitative","axis":{"orient":"right","labels":false,"title":"Cost functional[J]","titlePadding":10,"values":[0.4,0.6,0.8,1]}},"text":{"field":"txt"}}}
],"resolve":{"axis":{"x":"independent","y":"independent"}}}
]
}
